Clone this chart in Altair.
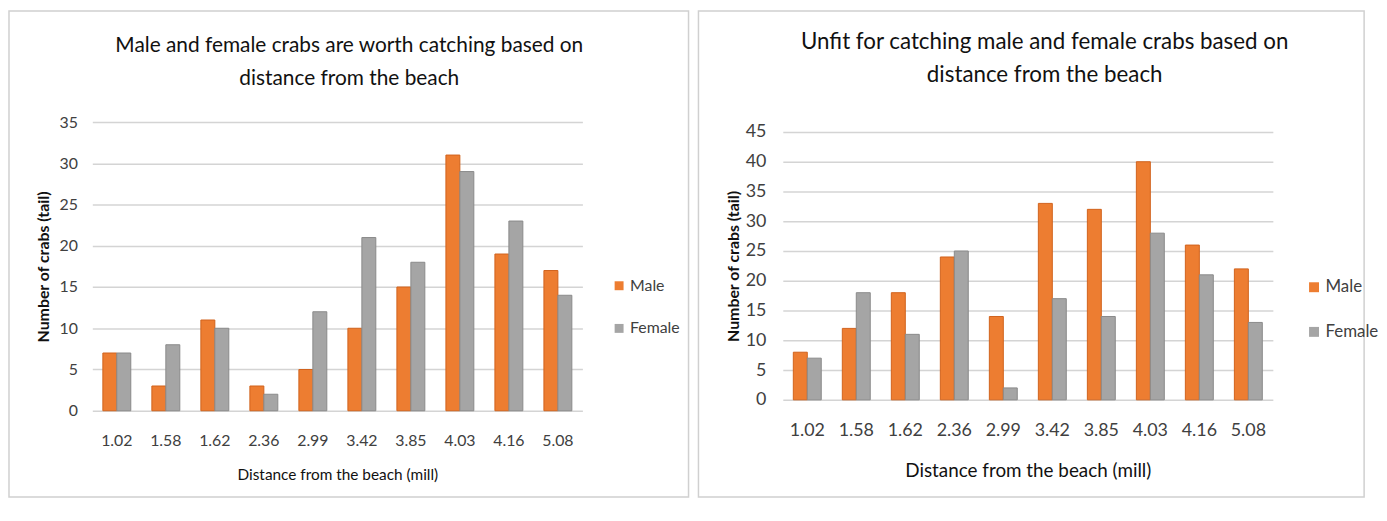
import altair as alt
import pandas as pd

distances = ["1.02", "1.58", "1.62", "2.36", "2.99", "3.42", "3.85", "4.03", "4.16", "5.08"]
series = ["Male", "Female"]
worth_male = [7, 3, 11, 3, 5, 10, 15, 31, 19, 17]
worth_female = [7, 8, 10, 2, 12, 21, 18, 29, 23, 14]
unfit_male = [8, 12, 18, 24, 14, 33, 32, 40, 26, 22]
unfit_female = [7, 18, 11, 25, 2, 17, 14, 28, 21, 13]
left_ticks = [0, 5, 10, 15, 20, 25, 30, 35]
right_ticks = [0, 5, 10, 15, 20, 25, 30, 35, 40, 45]

FONT = "Lato, Open Sans, sans-serif"
FILLS = ["#ED7D31", "#A5A5A5"]
STROKES = ["#D0621C", "#8A8A8A"]


def long_df(male, female):
    rows = []
    for d, m, f in zip(distances, male, female):
        rows.append({"distance": d, "sex": "Male", "count": m})
        rows.append({"distance": d, "sex": "Female", "count": f})
    return pd.DataFrame(rows)


def panel(df, title_lines, ticks, ymax, yrange, w, h, border, legend_xy, s):
    frame = alt.Chart(alt.Data(values=[{"k": 1}])).mark_rect(
        filled=False, stroke="#d0d0d0", strokeWidth=1.5
    ).encode(
        x=alt.value(border[0]), x2=alt.value(border[1]),
        y=alt.value(border[2]), y2=alt.value(border[3]),
    )
    yscale = alt.Scale(domain=[0, ymax], nice=False)
    if yrange is not None:
        yscale = alt.Scale(domain=[0, ymax], nice=False, range=yrange)
    bars = alt.Chart(df).mark_bar(strokeWidth=1).encode(
        x=alt.X(
            "distance:N", sort=distances,
            scale=alt.Scale(paddingInner=0.43, paddingOuter=0.215),
            axis=alt.Axis(
                title="Distance from the beach (mill)", labelAngle=0,
                domain=False, ticks=False, labelPadding=s["xlp"],
                labelFontSize=s["xl"], titleFontSize=s["xt"], titleFontWeight="normal",
                titlePadding=s["xtp"], labelColor="#404040", titleColor="#111111",
                labelFont=FONT, titleFont=FONT,
            ),
        ),
        xOffset=alt.XOffset("sex:N", sort=series),
        y=alt.Y(
            "count:Q", scale=yscale,
            axis=alt.Axis(
                title="Number of crabs (tail)", values=ticks, domain=False, ticks=False,
                gridColor="#d4d4d4", gridWidth=1.5, labelPadding=s["ylp"],
                labelFontSize=s["yl"], titleFontSize=s["yt"], titleFontWeight="bold",
                titlePadding=s["ytp"], labelColor="#404040", titleColor="#111111",
                labelFont=FONT, titleFont=FONT,
            ),
        ),
        color=alt.Color(
            "sex:N", sort=series,
            scale=alt.Scale(domain=series, range=FILLS),
            legend=alt.Legend(
                title=None, orient="none", legendX=legend_xy[0], legendY=legend_xy[1],
                symbolType="square", symbolSize=s["sym"], symbolStrokeWidth=0,
                labelFont=FONT, labelFontSize=s["leg"], labelColor="#404040",
                rowPadding=s["rp"], labelOffset=3,
            ),
        ),
        stroke=alt.Stroke(
            "sex:N", sort=series, scale=alt.Scale(domain=series, range=STROKES), legend=None
        ),
    )
    return alt.layer(frame, bars).properties(
        width=w, height=h,
        title=alt.TitleParams(
            text=title_lines, font=FONT, fontSize=s["title"], fontWeight="normal",
            color="#111111", anchor="middle", lineHeight=s["lh"], offset=s["to"], dx=s["dx"],
        ),
    )


left = panel(
    long_df(worth_male, worth_female),
    ["Male and female crabs are worth catching based on", "distance from the beach"],
    left_ticks, 35, None, 494, 291, (-84, 601, -112, 378), (523, 157),
    dict(xlp=22, xl=16, xt=15.5, xtp=19, ylp=15, yl=16, yt=16, ytp=8, sym=81, leg=16,
         rp=27, title=21, lh=33, to=-79, dx=12),
)
right = panel(
    long_df(unfit_male, unfit_female),
    ["Unfit for catching male and female crabs based on", "distance from the beach"],
    right_ticks, 45, [280, 10], 494, 291, (-85, 586, -112, 378), (527, 158),
    dict(xlp=11, xl=18, xt=19, xtp=22, ylp=17, yl=18, yt=16, ytp=4, sym=100, leg=17,
         rp=27, title=22.5, lh=33, to=-77, dx=17),
)

chart = alt.hconcat(left, right, spacing=8, padding=0).resolve_scale(
    color="independent", stroke="independent", y="independent", x="independent"
).resolve_legend(color="independent").configure(
    background="white"
).configure_view(stroke=None)

chart.save("out.html", embed_options={"renderer": "svg", "actions": False})
